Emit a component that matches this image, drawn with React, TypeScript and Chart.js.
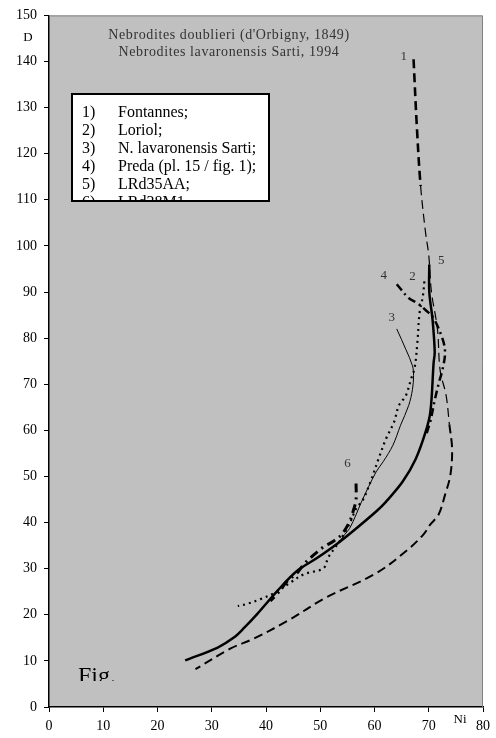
import React, { useEffect, useRef } from 'react';
import { Chart, registerables } from 'chart.js';
Chart.register(...registerables);

// ---- data ----
const xTickValues = [0, 10, 20, 30, 40, 50, 60, 70, 80];
const yTickValues = [0, 10, 20, 30, 40, 50, 60, 70, 80, 90, 100, 110, 120, 130, 140, 150];

const titleLines = ["Nebrodites doublieri (d'Orbigny, 1849)", 'Nebrodites lavaronensis Sarti, 1994'];
const legendNums = ['1)', '2)', '3)', '4)', '5)', '6)'];
const legendNames = ['Fontannes;', 'Loriol;', 'N. lavaronensis Sarti;', 'Preda (pl. 15 / fig. 1);', 'LRd35AA;', 'LRd38M1'];

// 1) Fontannes
const fontannesNi = [67.2, 67.8, 68.5, 69.4, 70, 70.5, 71.6, 72.1, 73.2, 73.8, 74.3, 74, 73, 71.8, 70.3, 69, 66, 60.3, 51, 44, 37.5, 33.5, 27];
const fontannesD = [140.5, 126, 113, 103, 98, 90, 82, 73, 67.6, 61.3, 56, 50.4, 46, 41.7, 39.6, 37.4, 34, 29, 23.7, 18.7, 14.7, 12.7, 8.2];
// 2) Loriol
const loriolNi = [69.2, 68.9, 68.3, 67.9, 67.4, 66.7, 65.8, 64.5, 63.6, 62.1, 60.8, 59.4, 57.9, 56.6, 55.5, 53.6, 51.5, 50.6, 47, 44.4, 41.5, 39, 36.6, 34.8];
const loriolD = [92.3, 89, 85.4, 79, 73.6, 71, 67.6, 65.4, 61.8, 58.1, 54, 49.3, 45, 43, 40, 36, 32.5, 30.1, 28.8, 26.9, 24.7, 23.4, 22.4, 21.9];
// 3) N. lavaronensis Sarti
const sartiNi = [64.1, 65.8, 67, 67.2, 67, 66.3, 64.8, 63.4, 61.6, 60.3, 57.6, 56.6, 55.4, 54.5, 53];
const sartiD = [82, 77.5, 74, 71.9, 68.9, 65.4, 61.1, 56.8, 53.2, 51, 44.5, 41.7, 38.7, 37.4, 35];
// 4) Preda
const predaNi = [64.1, 66.3, 68, 69.5, 70.8, 72.5, 73, 72.6, 71.8, 71, 70.3, 69.5];
const predaD = [91.7, 88.7, 87.5, 86, 84.5, 80, 77, 73.5, 70, 66, 62, 59];
// 5) LRd35AA
const lrd35Ni = [70.1, 70.1, 70.7, 71.1, 70.9, 70.3, 69.4, 67.6, 65.2, 62.1, 60.3, 56.6, 53, 49.4, 45.7, 42.1, 38.4, 36, 34, 31.1, 25.1];
const lrd35D = [96, 90, 84, 77, 74.7, 64, 59.6, 53.8, 48.9, 44.5, 42.4, 38.7, 35.3, 32.3, 29.5, 25.2, 20.2, 17.2, 15, 12.9, 10.1];
// 6) LRd38M1
const lrd38Ni = [56.6, 56.6, 56.2, 55.4, 54, 52.5, 50.6, 48.8, 47, 45.7, 43.9, 42.4, 40.8];
const lrd38D = [48.5, 45, 43, 40.2, 37.5, 36, 34.7, 33, 31, 29, 27.3, 25, 23];

const curveLabels = ['1', '2', '3', '4', '5', '6'];
const curveLabelNi = [65.4, 67, 63.2, 61.7, 72.3, 55];
const curveLabelD = [141, 93.4, 84.4, 93.6, 96.8, 52.7];

const toPts = (xs: number[], ys: number[]) => xs.map((x, i) => ({ x, y: ys[i] }));

const SERIF = '"Liberation Serif", "Times New Roman", serif';

const decor = {
  id: 'decor',
  beforeDraw(chart: any) {
    const { ctx, chartArea: a } = chart;
    ctx.save();
    ctx.fillStyle = '#c0c0c0';
    ctx.fillRect(a.left, a.top, a.right - a.left, a.bottom - a.top);
    ctx.restore();
  },
  afterDraw(chart: any) {
    const { ctx, chartArea: a, scales } = chart;
    ctx.save();
    // top/right frame
    ctx.strokeStyle = '#808080';
    ctx.lineWidth = 1;
    ctx.beginPath();
    ctx.moveTo(a.left, a.top + 0.5);
    ctx.lineTo(a.right - 0.5, a.top + 0.5);
    ctx.lineTo(a.right - 0.5, a.bottom);
    ctx.stroke();

    // title
    ctx.fillStyle = '#333';
    ctx.font = `14px ${SERIF}`;
    (ctx as any).letterSpacing = '0.6px';
    ctx.textAlign = 'center';
    ctx.textBaseline = 'middle';
    ctx.fillText(titleLines[0], 229, 35);
    ctx.fillText(titleLines[1], 229, 52);
    (ctx as any).letterSpacing = '0px';

    // legend box
    const bx = 72, by = 94, bw = 197, bh = 107;
    ctx.fillStyle = '#fff';
    ctx.fillRect(bx, by, bw, bh);
    ctx.save();
    ctx.beginPath();
    ctx.rect(bx, by, bw, bh);
    ctx.clip();
    ctx.fillStyle = '#000';
    ctx.font = `16px ${SERIF}`;
    ctx.textAlign = 'left';
    ctx.textBaseline = 'middle';
    legendNums.forEach((n, i) => {
      const y = 113 + i * 18;
      ctx.fillText(n, 82, y);
      ctx.fillText(legendNames[i], 118, y);
    });
    ctx.restore();
    ctx.strokeStyle = '#000';
    ctx.lineWidth = 2;
    ctx.strokeRect(bx, by, bw, bh);

    // curve labels
    ctx.fillStyle = '#333';
    ctx.font = `13px ${SERIF}`;
    ctx.textAlign = 'center';
    ctx.textBaseline = 'middle';
    curveLabels.forEach((t, i) => {
      ctx.fillText(t, scales.x.getPixelForValue(curveLabelNi[i]), scales.y.getPixelForValue(curveLabelD[i]));
    });

    // Fig. (clipped)
    ctx.save();
    ctx.beginPath();
    ctx.rect(a.left, a.top, a.right - a.left, 681 - a.top);
    ctx.clip();
    ctx.fillStyle = '#000';
    ctx.font = `24px ${SERIF}`;
    ctx.textAlign = 'left';
    ctx.textBaseline = 'alphabetic';
    ctx.fillText('Fig.', 78, 683);
    ctx.restore();

    // axis titles
    ctx.fillStyle = '#000';
    ctx.font = `13px ${SERIF}`;
    ctx.textAlign = 'center';
    ctx.textBaseline = 'middle';
    ctx.fillText('D', 28, 38);
    ctx.fillText('Ni', 460, 720);
    ctx.restore();
  },
};

export default function App() {
  const ref = useRef<HTMLCanvasElement | null>(null);
  useEffect(() => {
    if (!ref.current) return;
    const line = (data: any, width: number, dash: number[]) => ({
      data,
      borderColor: '#000',
      backgroundColor: '#000',
      borderWidth: width,
      borderDash: dash,
      pointRadius: 0,
      showLine: true,
      tension: 0.35,
      fill: false,
    });
    const chart = new Chart(ref.current, {
      type: 'scatter',
      data: {
        datasets: [
          {
            label: legendNames[0],
            ...line(toPts(fontannesNi, fontannesD), 1.8, [9, 5]),
            segment: {
              borderWidth: (c: any) => (c.p0DataIndex < 2 ? 2.6 : c.p0DataIndex < 9 ? 1.2 : 2),
            },
          },
          { label: legendNames[1], ...line(toPts(loriolNi, loriolD), 2.2, [2, 4]) },
          { label: legendNames[2], ...line(toPts(sartiNi, sartiD), 1, []) },
          { label: legendNames[3], ...line(toPts(predaNi, predaD), 2.5, [8, 4, 2, 4]) },
          { label: legendNames[4], ...line(toPts(lrd35Ni, lrd35D), 2.5, []) },
          { label: legendNames[5], ...line(toPts(lrd38Ni, lrd38D), 3, [9, 5, 2, 5]) },
        ],
      },
      options: {
        responsive: false,
        devicePixelRatio: 1,
        animation: false,
        layout: { padding: { top: 10, right: 8, left: 0, bottom: 0 } },
        plugins: { legend: { display: false }, tooltip: { enabled: false }, title: { display: false } },
        scales: {
          x: {
            type: 'linear',
            min: 0,
            max: 80,
            afterFit: (s: any) => { s.height = 31; },
            afterBuildTicks: (s: any) => { s.ticks = xTickValues.map((v) => ({ value: v })); },
            ticks: { color: '#000', font: { family: SERIF, size: 14 }, padding: 6, maxRotation: 0, autoSkip: false },
            grid: { drawOnChartArea: false, drawTicks: true, tickLength: 5, color: '#000' },
            border: { display: true, color: '#000', width: 1.5 },
          },
          y: {
            type: 'linear',
            min: 0,
            max: 150,
            afterFit: (s: any) => { s.width = 49; },
            afterBuildTicks: (s: any) => { s.ticks = yTickValues.map((v) => ({ value: v })); },
            ticks: { color: '#000', font: { family: SERIF, size: 14 }, padding: 7, autoSkip: false },
            grid: { drawOnChartArea: false, drawTicks: true, tickLength: 5, color: '#000' },
            border: { display: true, color: '#000', width: 1.5 },
          },
        },
      },
      plugins: [decor],
    } as any);
    return () => chart.destroy();
  }, []);
  return (
    <div style={{ position: 'absolute', left: 0, top: 0, width: 496, height: 738, background: '#fff' }}>
      <canvas ref={ref} width={496} height={738} style={{ display: 'block', width: 496, height: 738 }} />
    </div>
  );
}
